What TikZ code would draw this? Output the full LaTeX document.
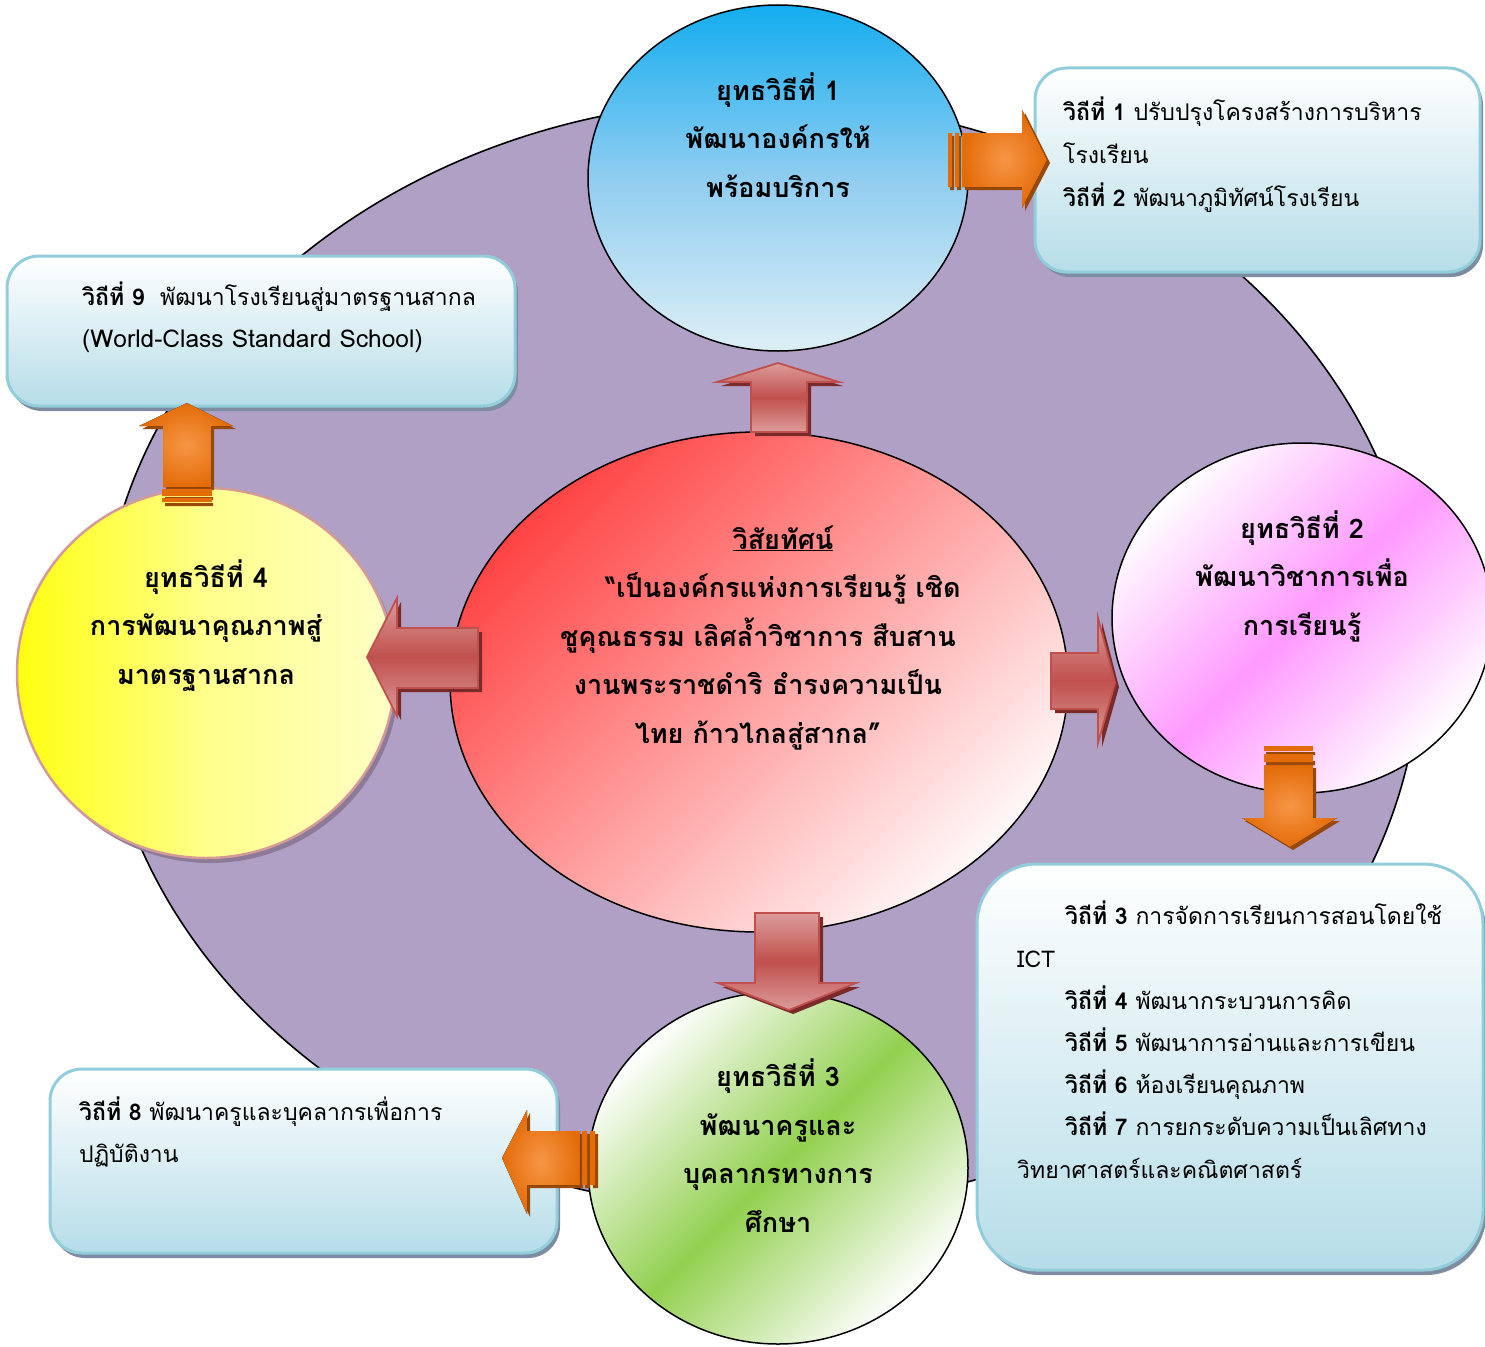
\documentclass[tikz,border=0pt]{standalone}
\usepackage{fontspec}
\setmainfont[Script=Thai]{Loma}
\usetikzlibrary{shapes.geometric,shadows}
\definecolor{purp}{HTML}{B0A0C6}
\definecolor{boxline}{HTML}{92CDDC}
\definecolor{boxbot}{HTML}{B6DDE8}
\definecolor{boxshadow}{HTML}{7D8CA0}
\definecolor{redarr}{HTML}{C0504D}
\definecolor{redarrlt}{HTML}{DC9C9A}
\definecolor{redarrsh}{HTML}{7A2B29}
\definecolor{orgdk}{HTML}{E36C09}
\definecolor{orglt}{HTML}{F79646}
\definecolor{orgsh}{HTML}{984807}
\definecolor{bluetop}{HTML}{14ADEF}
\definecolor{bluemid}{HTML}{90CDF0}
\definecolor{bluebot}{HTML}{DDEFF5}
\definecolor{redtl}{HTML}{FF4444}
\definecolor{redbr}{HTML}{FFF8F8}
\definecolor{pinkc}{HTML}{FF99FF}
\definecolor{greenc}{HTML}{92D050}
\definecolor{yelA}{HTML}{FFFF10}
\definecolor{yelB}{HTML}{FFFF8C}
\definecolor{yelC}{HTML}{FFFFC6}
\definecolor{yelline}{HTML}{D49A98}
\definecolor{yelshadow}{HTML}{8C7A98}
\tikzset{
  bigell/.style={ellipse, draw=black, line width=1.6pt, fill=purp, inner sep=0pt},
  circ/.style={ellipse, draw=black, line width=1.5pt, inner sep=0pt},
  infobox/.style={rectangle, draw=boxline, line width=3pt, rounded corners=32pt,
     top color=white, bottom color=boxbot, inner sep=0pt,
     drop shadow={shadow xshift=3pt, shadow yshift=-5pt, fill=boxshadow, opacity=1}},
  redarrow/.style={draw=redarr, line width=1.8pt, top color=redarrlt, bottom color=redarrlt, middle color=redarr},
  redshadow/.style={fill=redarrsh},
  orgarrow/.style={inner color=orglt, outer color=orgdk},
  orgshadow/.style={fill=orgsh},
  orgbar/.style={fill=orgdk},
  circtext/.style={align=center, inner sep=0pt, anchor=base, font=\fontsize{27}{48.5}\selectfont\bfseries},
  boxtext/.style={align=left, inner sep=0pt, anchor=base west, font=\fontsize{23}{43}\selectfont},
}
\newcommand\redarrowpath[1]{\fill[redshadow, shift={(4,-4)}] #1; \draw[redarrow] #1;}
\newcommand\orgarrowpath[1]{\fill[orgshadow, shift={(3,-3)}] #1; \fill[orgarrow] #1;}
\begin{document}
\begin{tikzpicture}[x=1pt,y=1pt]
\useasboundingbox (0,0) rectangle (1485,-1346);
% background ellipse
\node[bigell, minimum width=1320pt, minimum height=1110pt] (pe) at (760,-655) {};
% boxes
\node[infobox, minimum width=445pt, minimum height=204pt] (b1) at (1257.5,-170) {};
\node[infobox, minimum width=508pt, minimum height=150pt] (b9) at (261,-331) {};
\node[infobox, minimum width=507pt, minimum height=184pt] (b8) at (303.5,-1161) {};
\node[infobox, rounded corners=60pt, minimum width=506pt, minimum height=406pt] (b3) at (1230,-1067) {};
% circles
\node[ellipse, fill=yelshadow, minimum width=378pt, minimum height=370pt, inner sep=0pt] (c4s) at (210,-678) {};
\node[ellipse, draw=yelline, line width=2.5pt, inner sep=0pt, minimum width=378pt, minimum height=370pt,
      left color=yelA, right color=yelC, middle color=yelB] (c4) at (206,-673) {};
\node[circ, minimum width=380pt, minimum height=346pt, top color=bluetop, bottom color=bluebot, middle color=bluemid] (c1) at (778,-178) {};
\node[circ, minimum width=380pt, minimum height=350pt, top color=white, bottom color=white, middle color=pinkc, shading angle=45] (c2) at (1302,-618) {};
\node[circ, minimum width=380pt, minimum height=352pt, top color=white, bottom color=white, middle color=greenc, shading angle=45] (c3) at (778,-1168) {};
\node[circ, minimum width=618pt, minimum height=500pt, top color=redtl, bottom color=redbr, shading angle=45] (cv) at (759,-682) {};
% red arrows
\redarrowpath{(751,-432) -- (751,-382) -- (717,-382) -- (778,-363) -- (839,-382) -- (807,-382) -- (807,-432) -- cycle}
\redarrowpath{(478,-628) -- (397,-628) -- (397,-598) -- (367,-657) -- (397,-716) -- (397,-688) -- (478,-688) -- cycle}
\redarrowpath{(1051,-653) -- (1098,-653) -- (1098,-618) -- (1115,-683) -- (1098,-743) -- (1098,-709) -- (1051,-709) -- cycle}
\redarrowpath{(755,-913) -- (819,-913) -- (819,-983) -- (856,-983) -- (789,-1010) -- (718,-983) -- (755,-983) -- cycle}
% orange arrows
\orgarrowpath{(962,-133) -- (1022,-133) -- (1022,-110) -- (1047,-160) -- (1022,-208) -- (1022,-187) -- (962,-187) -- cycle}
\fill[orgshadow] (950,-136) rectangle (954,-190) (957,-136) rectangle (961,-190);
\fill[orgbar] (948,-133) rectangle (952,-187) (955,-133) rectangle (959,-187);
\orgarrowpath{(163,-487) -- (163,-426) -- (139,-426) -- (187,-403) -- (233,-426) -- (211,-426) -- (211,-487) -- cycle}
\fill[orgshadow] (165,-497) rectangle (213,-500) (165,-503) rectangle (213,-506);
\fill[orgbar] (162,-489) rectangle (212,-496) (162,-498) rectangle (212,-502);
\orgarrowpath{(1264,-765) -- (1264,-818) -- (1242,-818) -- (1290,-847) -- (1337,-818) -- (1313,-818) -- (1313,-765) -- cycle}
\fill[orgshadow] (1266,-752) rectangle (1315,-755) (1266,-761) rectangle (1315,-765);
\fill[orgbar] (1264,-746) rectangle (1313,-751) (1264,-754) rectangle (1313,-762);
\orgarrowpath{(580,-1131) -- (527,-1131) -- (527,-1110) -- (502,-1158) -- (527,-1214) -- (527,-1185) -- (580,-1185) -- cycle}
\fill[orgshadow] (585,-1134) rectangle (590,-1188) (593,-1134) rectangle (598,-1188);
\fill[orgbar] (582,-1131) rectangle (587,-1185) (590,-1131) rectangle (595,-1185);
% circle texts (anchor = baseline of last line)
\node[circtext] (t1) at (778,-197) {ยุทธวิธีที่ 1\\พัฒนาองค์กรให้\\พร้อมบริการ};
\node[circtext] (t2) at (1302,-635) {ยุทธวิธีที่ 2\\พัฒนาวิชาการเพื่อ\\การเรียนรู้};
\node[circtext] (t3) at (778,-1232) {ยุทธวิธีที่ 3\\พัฒนาครูและ\\บุคลากรทางการ\\ศึกษา};
\node[circtext] (t4) at (206,-684) {ยุทธวิธีที่ 4\\การพัฒนาคุณภาพสู่\\มาตรฐานสากล};
\node[circtext] (tv) at (758,-743) {\hspace*{50pt}\underline{วิสัยทัศน์}\\
  \hspace*{50pt}“เป็นองค์กรแห่งการเรียนรู้ เชิด\\ชูคุณธรรม เลิศล้ำวิชาการ สืบสาน\\งานพระราชดำริ ธำรงความเป็น\\ไทย ก้าวไกลสู่สากล”};
% box texts (anchor = baseline of last line)
\node[boxtext] (x1) at (1063,-206) {\textbf{วิถีที่ 1} ปรับปรุงโครงสร้างการบริหาร\\โรงเรียน\\\textbf{วิถีที่ 2} พัฒนาภูมิทัศน์โรงเรียน};
\node[boxtext, font=\fontsize{23}{42}\selectfont] (x9) at (82,-347) {\textbf{วิถีที่ 9}\ \ พัฒนาโรงเรียนสู่มาตรฐานสากล\\{\fontsize{24.5}{42}\selectfont (World-Class Standard School)}};
\node[boxtext, font=\fontsize{23}{42}\selectfont] (x8) at (79,-1162) {\textbf{วิถีที่ 8} พัฒนาครูและบุคลากรเพื่อการ\\ปฏิบัติงาน};
\node[boxtext, font=\fontsize{23}{42.2}\selectfont] (x3) at (1017,-1178) {\hspace*{48pt}\textbf{วิถีที่ 3} การจัดการเรียนการสอนโดยใช้\\ICT\\
  \hspace*{48pt}\textbf{วิถีที่ 4} พัฒนากระบวนการคิด\\
  \hspace*{48pt}\textbf{วิถีที่ 5} พัฒนาการอ่านและการเขียน\\
  \hspace*{48pt}\textbf{วิถีที่ 6} ห้องเรียนคุณภาพ\\
  \hspace*{48pt}\textbf{วิถีที่ 7} การยกระดับความเป็นเลิศทาง\\วิทยาศาสตร์และคณิตศาสตร์};
\end{tikzpicture}
\end{document}
